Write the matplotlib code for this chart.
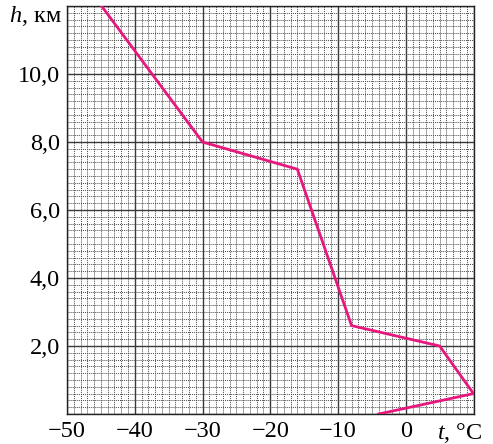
import matplotlib
matplotlib.use("Agg")
import matplotlib.pyplot as plt
from matplotlib.ticker import MultipleLocator, FixedLocator, FixedFormatter
from matplotlib.transforms import blended_transform_factory

plt.rcParams["font.family"] = ["Liberation Serif", "DejaVu Serif"]
plt.rcParams["mathtext.fontset"] = "custom"
plt.rcParams["mathtext.rm"] = "Liberation Serif"
plt.rcParams["mathtext.it"] = "Liberation Serif:italic"

# temperature profile: t (°C) versus altitude h (km)
temperature = [-44.9, -30.0, -16.0, -8.0, 5.0, 10.0, -4.0]
altitude = [12.0, 8.0, 7.2, 2.6, 2.0, 0.6, 0.0]

x_ticks = [-50, -40, -30, -20, -10, 0]
x_labels = ["\u221250", "\u221240", "\u221230", "\u221220", "\u221210", "0"]
y_ticks = [2, 4, 6, 8, 10]
y_labels = ["2,0", "4,0", "6,0", "8,0", "10,0"]

fig = plt.figure(figsize=(4.93, 4.44), dpi=100)
ax = fig.add_axes([67 / 493, 30 / 444, (473.5 - 67) / 493, (414 - 6) / 444])

ax.set_xlim(-50, 10)
ax.set_ylim(0, 12)

# graph-paper grid
ax.xaxis.set_minor_locator(MultipleLocator(1))
ax.yaxis.set_minor_locator(MultipleLocator(0.2))
ax.xaxis.set_major_locator(FixedLocator(x_ticks))
ax.xaxis.set_major_formatter(FixedFormatter(x_labels))
ax.yaxis.set_major_locator(FixedLocator(y_ticks))
ax.yaxis.set_major_formatter(FixedFormatter(y_labels))
ax.grid(which="minor", color="#4a4a4a", linestyle=(0, (1.0, 1.0)), linewidth=0.7)
for xv in range(-50, 11, 10):
    ax.axvline(xv, color="#3a3a3a", linewidth=1.0, zorder=1)
for yv in range(0, 13, 2):
    ax.axhline(yv, color="#3a3a3a", linewidth=1.0, zorder=1)

ax.tick_params(which="both", length=0)
ax.tick_params(axis="both", labelsize=17.5, pad=5)
for s in ax.spines.values():
    s.set_color("#222222")
    s.set_linewidth(1.0)

ax.plot(temperature, altitude, color="#e8177e", linewidth=2.0, zorder=3,
        solid_joinstyle="miter")

# axis titles in place of the last tick labels
yt = blended_transform_factory(ax.transAxes, ax.transData)
ax.text(-0.012, 11.52, "$h$, км", transform=yt, ha="right", va="baseline",
        fontsize=17.5)
xt = blended_transform_factory(ax.transData, ax.transAxes)
ax.text(7.9, -0.017, "$t$, °C", transform=xt, ha="center", va="top",
        fontsize=17.5)

fig.savefig("out.png", dpi=100)
